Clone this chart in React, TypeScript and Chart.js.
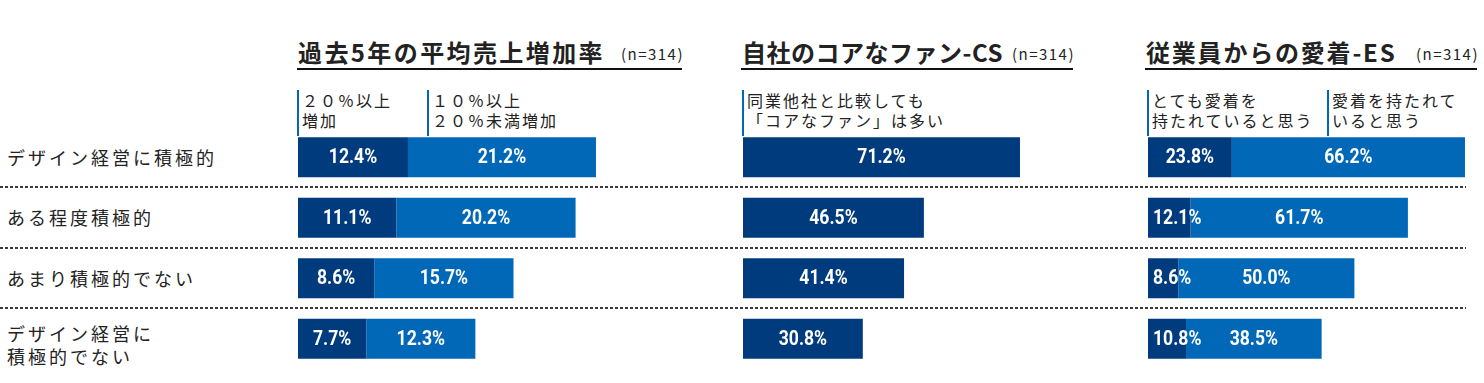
import React, { useEffect, useRef } from "react";
import { Chart, registerables } from "chart.js";

Chart.register(...registerables);

// ---------- data ----------
const rowLabels: string[][] = [
  ["デザイン経営に積極的"],
  ["ある程度積極的"],
  ["あまり積極的でない"],
  ["デザイン経営に", "積極的でない"],
];
const panelTitles = ["過去5年の平均売上増加率", "自社のコアなファン-CS", "従業員からの愛着-ES"];
const sampleSizeLabel = "(n=314)";

const salesSeriesLabels = [["２０％以上", "増加"], ["１０％以上", "２０％未満増加"]];
const csSeriesLabels = [["同業他社と比較しても", "「コアなファン」は多い"]];
const esSeriesLabels = [["とても愛着を", "持たれていると思う"], ["愛着を持たれて", "いると思う"]];

const salesOver20 = [12.4, 11.1, 8.6, 7.7];
const sales10to20 = [21.2, 20.2, 15.7, 12.3];
const csCoreFans = [71.2, 46.5, 41.4, 30.8];
const esVeryAttached = [23.8, 12.1, 8.6, 10.8];
const esAttached = [66.2, 61.7, 50.0, 38.5];

// ---------- style / layout ----------
const DARK = "#003b7e";
const LIGHT = "#0068b7";
const JP = '"Noto Sans CJK JP", "Noto Sans", sans-serif';
const CHART_TOP = 127;
const ROW_H = 60.5;
const CHART_H = ROW_H * 4;

type PanelDef = {
  title: string;
  titleSpacing: number;
  left: number;
  width: number;
  xMax: number;
  lineLeft: number;
  lineRight: number;
  legendX: number[];
  legendLabels: string[][];
  series: number[][];
  colors: string[];
};

const panels: PanelDef[] = [
  {
    title: panelTitles[0],
    titleSpacing: 2.4,
    left: 298,
    width: 384,
    xMax: 43.3,
    lineLeft: 297,
    lineRight: 682,
    legendX: [297, 427],
    legendLabels: salesSeriesLabels,
    series: [salesOver20, sales10to20],
    colors: [DARK, LIGHT],
  },
  {
    title: panelTitles[1],
    titleSpacing: 0.5,
    left: 743,
    width: 330,
    xMax: 84.83,
    lineLeft: 741,
    lineRight: 1073,
    legendX: [742],
    legendLabels: csSeriesLabels,
    series: [csCoreFans],
    colors: [DARK],
  },
  {
    title: panelTitles[2],
    titleSpacing: 1.8,
    left: 1148,
    width: 330,
    xMax: 93.7,
    lineLeft: 1145,
    lineRight: 1477,
    legendX: [1147, 1327],
    legendLabels: esSeriesLabels,
    series: [esVeryAttached, esAttached],
    colors: [DARK, LIGHT],
  },
];

const LABEL_SCALE_X = 0.88;

const valueLabelPlugin = {
  id: "valueLabels",
  afterDatasetsDraw(chart: any) {
    const ctx = chart.ctx as CanvasRenderingContext2D;
    ctx.save();
    ctx.font = '700 20px Roboto, "DejaVu Sans", sans-serif';
    ctx.fillStyle = "#ffffff";
    ctx.textBaseline = "middle";
    ctx.textAlign = "left";
    chart.data.datasets.forEach((ds: any, di: number) => {
      const meta = chart.getDatasetMeta(di);
      meta.data.forEach((bar: any, i: number) => {
        const v = ds.data[i] as number;
        const p = bar.getProps(["x", "y", "base"], true);
        const l = Math.min(p.x, p.base);
        const r = Math.max(p.x, p.base);
        const text = v.toFixed(1) + "%";
        const w = ctx.measureText(text).width * LABEL_SCALE_X;
        let tx = (l + r) / 2 - w / 2;
        if (tx < l + 5) tx = l + 5;
        ctx.save();
        ctx.translate(tx, p.y + 1);
        ctx.scale(LABEL_SCALE_X, 1);
        ctx.fillText(text, 0, 0);
        ctx.restore();
      });
    });
    ctx.restore();
  },
};

function PanelChart({ def }: { def: PanelDef }) {
  const ref = useRef<HTMLCanvasElement | null>(null);
  useEffect(() => {
    if (!ref.current) return;
    const chart = new Chart(ref.current, {
      type: "bar",
      data: {
        labels: rowLabels.map((l) => l.join("")),
        datasets: def.series.map((s, i) => ({
          label: def.legendLabels[i].join(""),
          data: s,
          backgroundColor: def.colors[i],
          borderWidth: 0,
          barPercentage: 40 / ROW_H,
          categoryPercentage: 1,
        })),
      },
      options: {
        indexAxis: "y",
        responsive: false,
        animation: false,
        layout: { padding: 0 },
        scales: {
          x: { stacked: true, min: 0, max: def.xMax, display: false },
          y: { stacked: true, display: false },
        },
        plugins: { legend: { display: false }, tooltip: { enabled: false } },
      },
      plugins: [valueLabelPlugin],
    } as any);
    return () => chart.destroy();
  }, [def]);
  return (
    <canvas
      ref={ref}
      width={def.width}
      height={CHART_H}
      style={{ position: "absolute", left: def.left, top: CHART_TOP, width: def.width, height: CHART_H }}
    />
  );
}

export default function App() {
  return (
    <div
      style={{
        position: "absolute",
        left: 0,
        top: 0,
        width: 1484,
        height: 383,
        background: "#ffffff",
        fontFamily: JP,
        color: "#222",
        overflow: "hidden",
      }}
    >
      {/* row labels */}
      {rowLabels.map((lines, i) => {
        const center = CHART_TOP + ROW_H * (i + 0.5) + (lines.length > 1 ? 6 : 0);
        const lh = 23;
        return (
          <div
            key={"r" + i}
            style={{
              position: "absolute",
              left: 7,
              top: center - (lines.length * lh) / 2,
              fontSize: 18,
              lineHeight: lh + "px",
              letterSpacing: 3,
              whiteSpace: "nowrap",
              color: "#222",
            }}
          >
            {lines.map((t, j) => (
              <div key={j}>{t}</div>
            ))}
          </div>
        );
      })}

      {/* dashed separators */}
      {[1, 2, 3].map((k) => (
        <div
          key={"d" + k}
          style={{
            position: "absolute",
            left: 0,
            top: Math.round(CHART_TOP + ROW_H * k - 1.5),
            width: 1466,
            height: 2,
            background: "repeating-linear-gradient(90deg, #3a3a3a 0px, #3a3a3a 3px, transparent 3px, transparent 5px)",
          }}
        />
      ))}

      {panels.map((p, pi) => (
        <React.Fragment key={"p" + pi}>
          <div
            style={{
              position: "absolute",
              left: p.lineLeft + 1,
              top: 35,
              fontSize: 24,
              fontWeight: 700,
              lineHeight: "34px",
              letterSpacing: p.titleSpacing,
              whiteSpace: "nowrap",
              color: "#222",
            }}
          >
            {p.title}
          </div>
          <div
            style={{
              position: "absolute",
              left: p.lineRight - 130,
              width: 132,
              top: 43,
              fontSize: 15,
              lineHeight: "22px",
              letterSpacing: 1.5,
              textAlign: "right",
              whiteSpace: "nowrap",
              color: "#222",
            }}
          >
            {sampleSizeLabel}
          </div>
          <div
            style={{
              position: "absolute",
              left: p.lineLeft,
              top: 68,
              width: p.lineRight - p.lineLeft,
              height: 2,
              background: "#111",
            }}
          />
          {p.legendLabels.map((lines, li) => (
            <div
              key={"l" + li}
              style={{
                position: "absolute",
                left: p.legendX[li],
                top: 90,
                height: 46,
                borderLeft: "2px solid " + LIGHT,
                paddingLeft: 3,
                fontSize: 16,
                lineHeight: "20px",
                letterSpacing: 2,
                whiteSpace: "nowrap",
                color: "#222",
                boxSizing: "border-box",
              }}
            >
              {lines.map((t, j) => (
                <div key={j}>{t}</div>
              ))}
            </div>
          ))}
          <PanelChart def={p} />
        </React.Fragment>
      ))}
    </div>
  );
}
